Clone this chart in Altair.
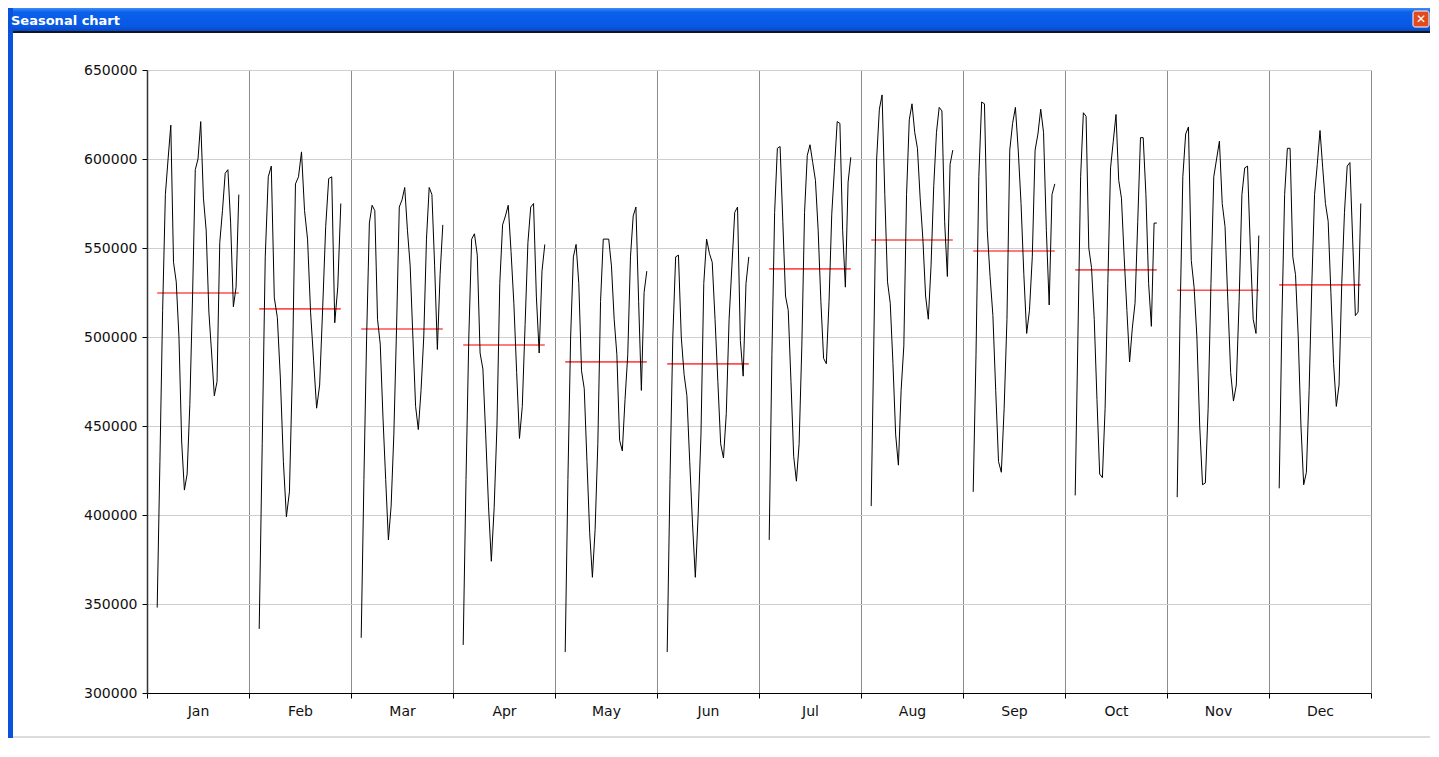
import altair as alt
import pandas as pd

# ---------------- data ----------------
month_names = ["Jan", "Feb", "Mar", "Apr", "May", "Jun",
               "Jul", "Aug", "Sep", "Oct", "Nov", "Dec"]

jan = [348000, 430000, 515000, 580000, 600000, 619000, 542000, 531000, 500000, 441000,
       414000, 423000, 462000, 523000, 594000, 600000, 621000, 578000, 560000, 514000,
       491000, 467000, 475000, 553000, 571000, 592000, 594000, 564000, 517000, 528000, 580000]
feb = [336000, 440000, 545000, 590000, 596000, 522000, 511000, 477000, 430000, 399000,
       413000, 482000, 586000, 590000, 604000, 571000, 555000, 514000, 487000, 460000,
       473000, 516000, 562000, 589000, 590000, 508000, 528000, 575000]
mar = [331000, 420000, 500000, 564000, 574000, 571000, 510000, 496000, 455000, 420000,
       386000, 405000, 445000, 505000, 573000, 577000, 584000, 560000, 540000, 500000,
       461000, 448000, 470000, 500000, 555000, 584000, 580000, 540000, 493000, 535000, 563000]
apr = [327000, 420000, 500000, 555000, 558000, 546000, 491000, 482000, 445000, 405000,
       374000, 404000, 450000, 530000, 563000, 568000, 574000, 548000, 519000, 480000,
       443000, 461000, 507000, 553000, 573000, 575000, 523000, 491000, 537000, 552000]
may = [323000, 420000, 500000, 545000, 552000, 530000, 481000, 471000, 430000, 390000,
       365000, 392000, 440000, 520000, 555000, 555000, 555000, 540000, 510000, 490000,
       442000, 436000, 465000, 490000, 545000, 568000, 573000, 520000, 470000, 525000, 537000]
jun = [323000, 420000, 500000, 545000, 546000, 500000, 479000, 467000, 430000, 395000,
       365000, 400000, 445000, 530000, 555000, 547000, 542000, 510000, 475000, 440000,
       432000, 457000, 510000, 540000, 570000, 573000, 498000, 478000, 530000, 545000]
jul = [386000, 490000, 570000, 606000, 607000, 565000, 523000, 515000, 475000, 433000,
       419000, 440000, 495000, 570000, 602000, 608000, 598000, 588000, 560000, 520000,
       488000, 485000, 520000, 569000, 595000, 621000, 620000, 560000, 528000, 587000, 601000]
aug = [405000, 500000, 600000, 628000, 636000, 580000, 531000, 519000, 485000, 445000,
       428000, 470000, 495000, 580000, 622000, 631000, 615000, 606000, 578000, 555000,
       523000, 510000, 540000, 585000, 615000, 629000, 627000, 565000, 534000, 597000, 605000]
sep = [413000, 490000, 590000, 632000, 631000, 560000, 534000, 512000, 470000, 430000,
       424000, 460000, 510000, 605000, 620000, 629000, 605000, 575000, 535000, 502000,
       515000, 545000, 605000, 614000, 628000, 615000, 560000, 518000, 580000, 586000]
oct_ = [411000, 500000, 590000, 626000, 624000, 550000, 539000, 510000, 465000, 423000,
        421000, 460000, 530000, 595000, 610000, 625000, 588000, 578000, 545000, 515000,
        486000, 505000, 519000, 565000, 612000, 612000, 580000, 530000, 506000, 564000, 564000]
nov = [410000, 510000, 590000, 614000, 618000, 543000, 528000, 500000, 450000, 417000,
       418000, 460000, 530000, 590000, 600000, 610000, 575000, 562000, 520000, 480000,
       464000, 473000, 520000, 580000, 595000, 596000, 550000, 510000, 502000, 557000]
dec = [415000, 510000, 580000, 606000, 606000, 545000, 535000, 500000, 450000, 417000,
       424000, 470000, 530000, 580000, 597000, 616000, 595000, 575000, 565000, 525000,
       485000, 461000, 473000, 530000, 570000, 596000, 598000, 555000, 512000, 514000, 575000]

monthly_mean = [524700, 515800, 504500, 495500, 486000, 484900,
                538300, 554500, 548300, 537700, 526300, 529300]

y_ticks = [300000, 350000, 400000, 450000, 500000, 550000, 600000, 650000]

# ---------------- tables ----------------
series = [jan, feb, mar, apr, may, jun, jul, aug, sep, oct_, nov, dec]
rows = []
for i, vals in enumerate(series):
    n = len(vals)
    for d, v in enumerate(vals):
        rows.append({"month": month_names[i], "day": d + 1,
                     "pos": i + 0.1 + 0.8 * d / (n - 1), "value": v})
df = pd.DataFrame(rows)

mean_df = pd.DataFrame({
    "month": month_names,
    "start": [i + 0.1 for i in range(12)],
    "end": [i + 0.9 for i in range(12)],
    "mean": monthly_mean,
})

W, H = 1224, 623
FONT = "DejaVu Sans"

label_expr = "[" + ",".join("'%s'" % m for m in month_names) + ",''][datum.value]"

xscale = alt.Scale(domain=[0, 12], nice=False, zero=False)
yscale = alt.Scale(domain=[300000, 650000], nice=False, zero=False)

x_axis = alt.Axis(values=list(range(13)), labelExpr=label_expr, labelOffset=W / 24,
                  labelFlush=False, labelOverlap=False, grid=True, gridColor="#8c8c8c",
                  gridWidth=1, tickColor="#000000", tickSize=5, domainColor="#000000",
                  domainWidth=1.2, labelFont=FONT, labelFontSize=14, labelColor="#111111",
                  labelPadding=6, title=None)
y_axis = alt.Axis(values=y_ticks, format="d", grid=True, gridColor="#cfcfcf", gridWidth=1,
                  tickColor="#000000", tickSize=5, domainColor="#333333", domainWidth=1.5,
                  labelFont=FONT, labelFontSize=14, labelColor="#111111", labelPadding=5,
                  title=None)

rules = alt.Chart(mean_df).mark_rule(color="#ff3030", strokeWidth=1.6, opacity=0.85).encode(
    x=alt.X("start:Q", scale=xscale, axis=x_axis),
    x2="end:Q",
    y=alt.Y("mean:Q", scale=yscale, axis=y_axis),
)

lines = alt.Chart(df).mark_line(color="#000000", strokeWidth=1).encode(
    x=alt.X("pos:Q", scale=xscale, axis=x_axis),
    y=alt.Y("value:Q", scale=yscale, axis=y_axis),
    detail="month:N",
    order="day:Q",
)

# ---------------- window chrome ----------------
deco = alt.Chart(alt.Data(values=[{"k": 1}]))

bar_grad = alt.Gradient(
    gradient="linear", x1=0, y1=0, x2=0, y2=1,
    stops=[alt.GradientStop(color="#3d8ef7", offset=0),
           alt.GradientStop(color="#0b60ea", offset=0.18),
           alt.GradientStop(color="#0858e4", offset=0.8),
           alt.GradientStop(color="#0648c8", offset=1)],
)
title_bar = deco.mark_rect(color=bar_grad).encode(
    x=alt.value(-139), x2=alt.value(1283), y=alt.value(-62), y2=alt.value(-39))
dark_line = deco.mark_rect(color="#151515").encode(
    x=alt.value(-134), x2=alt.value(1283), y=alt.value(-39), y2=alt.value(-37))
left_border = deco.mark_rect(color="#0a52dc").encode(
    x=alt.value(-139), x2=alt.value(-134), y=alt.value(-62), y2=alt.value(668))
bottom_line = deco.mark_rect(color="#dcdcdc").encode(
    x=alt.value(-134), x2=alt.value(1283), y=alt.value(666), y2=alt.value(668))
caption = deco.mark_text(text="Seasonal chart", color="white", fontWeight="bold",
                         fontSize=13, font=FONT, align="left", baseline="alphabetic").encode(
    x=alt.value(-136), y=alt.value(-45))
close_btn = deco.mark_rect(color="#e04a1e", stroke="white", strokeWidth=1,
                           cornerRadius=2).encode(
    x=alt.value(1266), x2=alt.value(1282), y=alt.value(-59), y2=alt.value(-43))
close_x = deco.mark_text(text="✕", color="white", fontWeight="bold", fontSize=12,
                         font=FONT, align="center", baseline="middle").encode(
    x=alt.value(1274), y=alt.value(-51))

chart = alt.layer(
    title_bar, dark_line, left_border, bottom_line, caption, close_btn, close_x,
    rules, lines,
).properties(
    width=W, height=H, padding=0, background="white",
).configure_view(strokeWidth=0)

chart.save("out.html", embed_options={"renderer": "svg", "actions": False})
